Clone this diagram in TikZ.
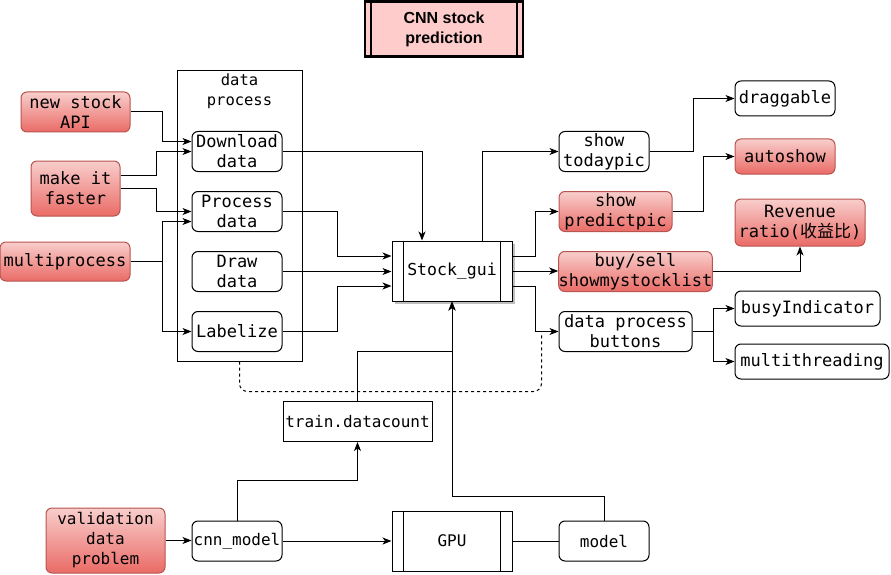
\documentclass[tikz,border=0pt]{standalone}
\usepackage{fontspec}
\newfontfamily\mono{DejaVu Sans Mono}
\newfontfamily\cjk{Noto Sans CJK SC}
\setsansfont{Liberation Sans}
\usetikzlibrary{arrows.meta,shadows}
\definecolor{redtop}{HTML}{F8CECC}
\definecolor{redbot}{HTML}{EA6B66}
\definecolor{redline}{HTML}{B85450}
\definecolor{titlefill}{HTML}{FFCCCC}
\tikzset{
  base/.style={draw, line width=1pt, inner sep=0pt, align=center,
    font=\mono\fontsize{17}{20}\selectfont},
  small/.style={font=\mono\fontsize{16}{20}\selectfont},
  wbox/.style={base, rounded corners=6pt, fill=white},
  rbox/.style={base, rounded corners=6pt, draw=redline, top color=redtop, bottom color=redbot},
  sbox/.style={base, fill=white},
  arr/.style={line width=1pt, -{Stealth[length=9pt,width=7pt,inset=2.5pt]}},
  ln/.style={line width=1pt},
}
\begin{document}
\begin{tikzpicture}[x=1pt,y=-1pt]
\useasboundingbox (0,0) rectangle (891,575);
% title
\node[base, line width=2.5pt, fill=titlefill, minimum width=158pt, minimum height=55pt,
  font=\sffamily\bfseries\fontsize{16}{20}\selectfont] (title) at (444,29) {CNN stock\\prediction};
\draw[line width=2pt] ([xshift=7pt]title.north west) -- ([xshift=7pt]title.south west);
\draw[line width=2pt] ([xshift=-7pt]title.north east) -- ([xshift=-7pt]title.south east);
% container
\node[draw, line width=1pt, minimum width=125pt, minimum height=290pt, inner sep=0pt] (cont) at (239.5,216) {};
\node[font=\mono\fontsize{15.5}{20}\selectfont, align=center] (conttxt) at (239.5,91) {data\\process};
% left
\node[rbox, minimum width=109pt, minimum height=40pt] (napi) at (75.5,112) {new stock\\API};
\node[rbox, minimum width=89pt, minimum height=55pt] (faster) at (75.5,188.5) {make it\\faster};
\node[rbox, minimum width=130pt, minimum height=39pt] (mproc) at (65,261.5) {multiprocess};
\node[rbox, small, minimum width=119pt, minimum height=65pt] (valid) at (105.5,540.5) {validation\\data\\problem};
% inner
\node[wbox, minimum width=90pt, minimum height=40pt] (dl) at (237,151.5) {Download\\data};
\node[wbox, minimum width=90pt, minimum height=40pt] (proc) at (237,211.5) {Process\\data};
\node[wbox, minimum width=90pt, minimum height=40pt] (drw) at (237,271.5) {Draw\\data};
\node[wbox, minimum width=90pt, minimum height=40pt] (lab) at (237,331.5) {Labelize};
% gui
\node[sbox, font=\mono\fontsize{16.5}{20}\selectfont, minimum width=120pt, minimum height=60pt,
  drop shadow={shadow xshift=2.5pt, shadow yshift=-2.5pt, fill=black, opacity=0.25}] (gui) at (452,271) {Stock\_gui};
\draw[ln] ([xshift=12pt]gui.north west) -- ([xshift=12pt]gui.south west);
\draw[ln] ([xshift=-12pt]gui.north east) -- ([xshift=-12pt]gui.south east);
% right
\node[wbox, minimum width=90pt, minimum height=40pt] (today) at (604,151.5) {show\\todaypic};
\node[rbox, minimum width=113pt, minimum height=40pt] (pred) at (615.5,211.5) {show\\predictpic};
\node[rbox, minimum width=153pt, minimum height=40pt] (buy) at (635.5,271.5) {buy/sell\\showmystocklist};
\node[wbox, minimum width=133pt, minimum height=40pt] (dpb) at (625.5,331.5) {data process\\buttons};
\node[wbox, minimum width=100pt, minimum height=35pt] (drag) at (785,98.5) {draggable};
\node[rbox, minimum width=100pt, minimum height=35pt] (auto) at (785,156.5) {autoshow};
\node[rbox, minimum width=130pt, minimum height=47pt] (rev) at (800,222.5) {Revenue\\ratio({\cjk 收益比})};
\node[wbox, minimum width=145pt, minimum height=35pt] (busy) at (807.5,308.5) {busyIndicator};
\node[wbox, minimum width=154pt, minimum height=35pt] (multi) at (812,361.5) {multithreading};
% bottom
\node[sbox, small, minimum width=149pt, minimum height=40pt] (train) at (357.5,421.5) {train.datacount};
\node[wbox, small, minimum width=90pt, minimum height=40pt] (cnn) at (237,541) {cnn\_model};
\node[sbox, small, minimum width=120pt, minimum height=60pt] (gpu) at (452,541) {GPU};
\draw[ln] ([xshift=12pt]gpu.north west) -- ([xshift=12pt]gpu.south west);
\draw[ln] ([xshift=-12pt]gpu.north east) -- ([xshift=-12pt]gpu.south east);
\node[wbox, small, minimum width=90pt, minimum height=40pt] (model) at (604,541) {model};
% left edges
\draw[arr] (napi.east) -- ++(32,0) |- ([yshift=10pt]dl.west);
\draw[arr] ([yshift=13.5pt]faster.east) -- ++(36,0) |- (dl.west);
\draw[arr] (faster.east) -- ++(36,0) |- (proc.west);
\draw[arr] (mproc.east) -- ++(32,0) |- ([yshift=-10pt]proc.west);
\draw[arr] (mproc.east) -- ++(32,0) |- (lab.west);
% inner to gui
\draw[arr] (dl.east) -| ([xshift=-30pt]gui.north);
\draw[arr] (proc.east) -- ++(55,0) |- ([yshift=15pt]gui.west);
\draw[arr] (drw.east) -- (drw.east -| gui.west);
\draw[arr] (lab.east) -- ++(55,0) |- ([yshift=-15pt]gui.west);
% gui to right
\draw[arr] ([xshift=30pt]gui.north) |- (today.west);
\draw[arr] ([yshift=15pt]gui.east) -- ++(23,0) |- (pred.west);
\draw[arr] (gui.east) -- (gui.east -| buy.west);
\draw[arr] ([yshift=-15pt]gui.east) -- ++(23,0) |- (dpb.west);
% right edges
\draw[arr] (today.east) -- ++(44,0) |- (drag.west);
\draw[arr] (pred.east) -- ++(31,0) |- (auto.west);
\draw[arr] (buy.east) -| (rev.south);
\draw[arr] (dpb.east) -- ++(21,0) |- (busy.west);
\draw[arr] (dpb.east) -- ++(21,0) |- (multi.west);
% dashed
\draw[line width=1pt, dash pattern=on 3pt off 3pt, rounded corners=8pt] (cont.south) -- ++(0,30) -| ([xshift=-17pt,yshift=-2pt]dpb.west);
% bottom edges
\draw[arr] (valid.east) -- (valid.east -| cnn.west);
\draw[arr] (cnn.north) -- ++(0,-40) -| (train.south);
\draw[arr] (cnn.east) -- (gpu.west);
\draw[ln] (gpu.east) -- (model.west);
\draw[arr] (model.north) -- ++(0,-24) -| (gui.south);
\draw[arr] (train.north) -- ++(0,-50) -| (gui.south);
\end{tikzpicture}
\end{document}
